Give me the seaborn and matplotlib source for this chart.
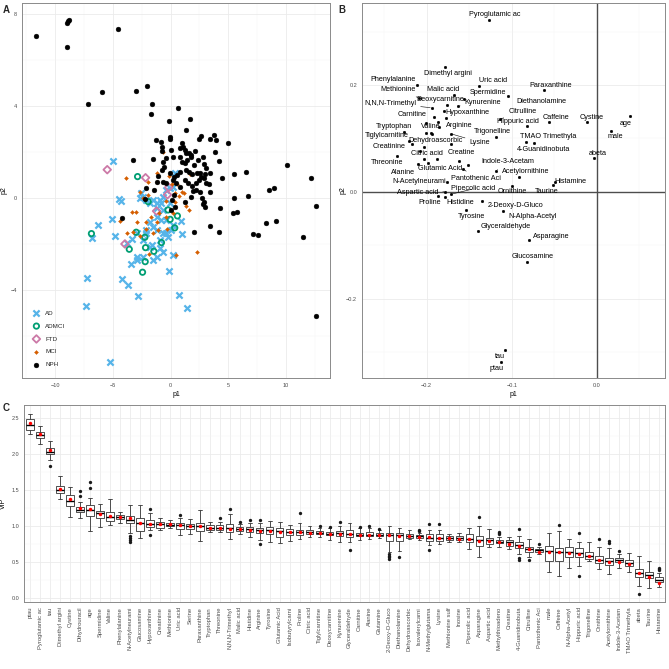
import numpy as np
import pandas as pd
import matplotlib
matplotlib.use("Agg")
import matplotlib.pyplot as plt
from matplotlib.ticker import MultipleLocator
import seaborn as sns

# ---------------- Panel A: PLS scores (p1, p2) per diagnosis ----------------
ad_scores = [(-4.96, 1.61), (-4.47, -0.04), (-4.30, -0.13), (-5.11, -0.93), (-6.26, -1.19),
             (-4.82, -1.65), (-6.78, -1.75), (-2.60, 0.22), (-2.66, -0.01), (-2.37, 0.06),
             (-2.09, -0.09), (-1.80, -0.23), (-1.51, -0.09), (-1.22, -0.23), (-0.94, -0.09),
             (-0.65, 0.06), (-0.36, 0.35), (-0.07, 0.42), (0.22, 0.49), (0.42, 1.07),
             (-0.79, -0.23), (-1.22, -0.45), (-0.65, -0.52), (-0.07, -0.23), (-3.38, -1.80),
             (-3.81, -1.97), (-3.44, -2.87), (-2.95, -2.70), (-2.89, -1.54), (-2.09, -1.54),
             (-7.27, -3.46), (-7.35, -4.70), (-4.22, -3.51), (-3.73, -3.78), (-2.81, -4.26),
             (0.70, -4.23), (1.40, -4.80), (-5.28, -7.14), (-0.65, -2.33), (-0.13, -3.16),
             (0.22, -2.48), (-1.22, -2.55), (-1.51, -2.70), (-1.80, -2.12), (-0.94, -1.83),
             (-0.36, -1.54), (0.07, -1.39), (-0.22, -1.68), (-0.65, -1.54), (-1.22, -1.39),
             (-1.51, -1.25), (-1.80, -1.03), (-2.09, -1.39), (-2.37, -1.83), (-2.37, -2.55),
             (-2.95, -2.55), (-1.65, -2.04), (-0.94, -2.19), (0.94, -0.99), (0.99, -1.58),
             (-0.36, -0.96), (0.22, -1.17), (-0.79, -0.96), (-1.22, -0.81)]
admci_scores = [(-2.86, 0.93), (-1.94, -0.16), (-6.86, -1.55), (-2.98, -1.49), (-3.58, -2.23),
                (-2.23, -1.71), (-2.17, -2.16), (-2.20, -2.77), (-2.43, -3.23), (-1.45, -2.32),
                (-0.79, -1.94), (-0.22, -0.52), (-0.04, -0.93), (0.36, -1.30), (0.59, -0.78)]
ftd_scores = [(-5.49, 1.23), (-2.17, 0.88), (-0.16, 0.46), (-1.22, -0.57), (-3.96, -2.00),
              (-0.27, 0.14)]
mci_scores = [(-3.90, 0.88), (-0.65, 1.99), (-1.22, 1.07), (-1.22, 0.71), (-2.00, 0.71),
              (-2.00, 0.12), (-2.66, 0.25), (-2.35, 0.01), (-0.10, 0.97), (0.16, 0.61),
              (0.53, 0.61), (1.65, 1.04), (1.17, 0.20), (0.76, 0.09), (0.99, 0.28),
              (0.39, 0.23), (1.31, -0.33), (1.57, -0.54), (0.42, -0.19), (-0.39, -0.14),
              (-2.98, -0.61), (-3.32, -0.62), (-4.39, -1.00), (-3.24, -1.49), (-2.66, -1.65),
              (-2.09, -1.36), (-1.08, -1.39), (-0.30, -1.36), (-1.22, -1.06), (-2.09, -1.03),
              (-1.71, -0.84), (0.50, -2.49), (2.26, -2.36), (-1.83, -2.43), (-0.36, -0.84),
              (0.22, -0.67), (-1.51, -1.54), (-0.99, -0.67), (-2.95, -1.04), (-3.81, -1.54)]
nph_scores = [(-11.64, 7.06), (-9.02, 7.59), (-8.91, 7.68), (-8.82, 7.74), (-8.96, 6.55),
              (-4.59, 7.35), (-7.12, 4.07), (-5.91, 4.59), (-3.04, 4.65), (-2.03, 4.86),
              (-1.57, 4.07), (-1.71, 3.64), (0.62, 3.93), (-0.13, 3.36), (1.71, 3.45),
              (1.34, 2.96), (-0.01, 2.67), (-0.01, 2.55), (-1.25, 2.51), (3.76, 2.74),
              (4.96, 2.39), (-3.24, 1.64), (-1.51, 1.70), (-0.71, 2.22), (-0.76, 2.06),
              (-0.36, 1.72), (0.01, 2.09), (0.99, 2.38), (1.11, 2.23), (1.25, 2.09),
              (1.37, 1.97), (1.60, 1.94), (1.80, 1.87), (2.43, 2.55), (2.63, 2.71),
              (3.38, 2.55), (3.90, 2.52), (3.87, 2.01), (4.19, 1.62), (2.09, 2.06),
              (0.79, 1.80), (0.96, 1.58), (1.22, 1.51), (1.45, 1.64), (1.77, 1.80),
              (2.03, 1.43), (2.35, 1.65), (2.81, 1.77), (2.89, 1.46), (3.09, 1.29),
              (3.38, 1.07), (3.01, 1.04), (2.52, 1.07), (2.32, 1.10), (1.88, 1.03),
              (1.60, 1.14), (1.37, 1.22), (0.82, 1.14), (0.56, 1.00), (0.27, 0.93),
              (-0.07, 1.07), (-0.53, 1.36), (-0.62, 1.55), (-0.71, 1.22), (-1.05, 0.97),
              (-1.22, 0.71), (-0.65, 0.71), (-0.36, 0.67), (0.22, 0.78), (0.50, 0.64),
              (0.79, 0.49), (1.22, 0.78), (1.51, 0.67), (1.88, 0.52), (2.17, 0.67),
              (2.43, 0.78), (2.66, 0.93), (2.89, 0.88), (3.09, 0.67), (3.29, 0.59),
              (2.20, 0.35), (1.94, 0.30), (1.74, 0.06), (2.58, 0.28), (2.75, 0.00),
              (2.86, -0.16), (2.95, -0.38), (3.38, 0.25), (2.81, -0.26), (1.25, -0.19),
              (0.27, 0.13), (0.16, -0.09), (0.36, -0.38), (0.04, -0.52), (-2.09, 0.42),
              (-1.45, 0.35), (-2.20, -0.06), (4.47, 0.86), (5.51, 1.06), (6.55, 1.13),
              (6.72, 0.10), (5.48, 0.01), (4.30, -0.43), (5.37, -0.67), (5.74, -0.61),
              (3.45, -1.22), (4.16, -1.46), (2.03, -1.46), (7.12, -1.57), (7.61, -1.59),
              (8.27, -1.10), (8.50, 0.33), (8.96, 0.45), (9.11, -0.99), (10.06, 1.45),
              (12.19, 0.86), (12.59, -0.33), (11.50, -1.70), (12.59, -5.12), (-4.19, -0.87),
              (-0.79, 2.45), (0.85, 2.16), (0.22, 1.80)]

# ---------------- Panel B: loadings ----------------
load_names = ["Pyroglutamic ac", "Dimethyl argini", "Phenylalanine", "Uric acid", "Paraxanthine",
              "Methionine", "Malic acid", "Spermidine", "Diethanolamine", "Deoxycarnitine",
              "N,N,N-Trimethyl", "Kynurenine", "Hypoxanthine", "Carnitine", "Citrulline",
              "Caffeine", "Cystine", "age", "Hippuric acid", "Arginine",
              "Valine", "Tryptophan", "male", "Lysine", "Trigonelline",
              "TMAO Trimethyla", "Dehydroascorbic", "Tiglylcarnitine", "Creatinine", "Creatine",
              "4-Guanidinobuta", "Citric acid", "abeta", "Threonine", "Indole-3-Acetam",
              "Glutamic Acid", "Alanine", "Pantothenic Aci", "Acetylornithine", "Histamine",
              "N-Acetylneurami", "Taurine", "Ornithine", "Pipecolic acid", "Aspartic acid",
              "Proline", "Histidine", "2-Deoxy-D-Gluco", "Tyrosine", "N-Alpha-Acetyl",
              "Glyceraldehyde", "Asparagine", "Glucosamine", "tau", "ptau",
              "Dihydrouracil", "Serine", "Glutamine", "Isobutyrylcarni", "Isovalerylcarni",
              "N-Methylglutama", "Methionine sulf", "Inosine", "Methylthioadeno"]
load_p1 = [-0.1263, -0.1784, -0.2110, -0.1380, -0.0620,
           -0.2086, -0.1675, -0.1557, -0.1039, -0.1757,
           -0.1941, -0.1627, -0.1792, -0.1910, -0.1137,
           -0.0561, -0.0118, 0.0392, -0.0824, -0.1769,
           -0.1945, -0.2267, 0.0165, -0.1718, -0.1188,
           -0.0831, -0.2008, -0.2212, -0.2176, -0.1718,
           -0.0737, -0.2031, -0.0039, -0.2353, -0.1184,
           -0.1620, -0.2102, -0.1569, -0.0914, -0.0490,
           -0.1757, -0.0510, -0.0996, -0.1710, -0.1784,
           -0.1863, -0.1788, -0.1345, -0.1537, -0.1098,
           -0.1400, -0.0792, -0.0816, -0.1078, -0.1125,
           -0.2027, -0.1984, -0.1875, -0.1514, -0.1871,
           -0.2008, -0.1851, -0.1941, -0.2078]
load_p2 = [0.3221, 0.2343, 0.2012, 0.1988, 0.1900,
           0.1757, 0.1819, 0.1745, 0.1801, 0.1626,
           0.1576, 0.1607, 0.1508, 0.1396, 0.1364,
           0.1302, 0.1302, 0.1414, 0.1227, 0.1377,
           0.1097, 0.1121, 0.1146, 0.1090, 0.1028,
           0.0928, 0.1103, 0.0960, 0.0891, 0.0891,
           0.0916, 0.0847, 0.0629, 0.0679, 0.0399,
           0.0573, 0.0517, 0.0430, 0.0280, 0.0193,
           0.0181, 0.0131, 0.0118, -0.0044, 0.0006,
           -0.0075, -0.0088, -0.0163, -0.0332, -0.0363,
           -0.0726, -0.0895, -0.1315, -0.2974, -0.3181,
           0.0611, 0.0548, 0.0611, 0.0511, 0.1315,
           0.1283, 0.1221, 0.1084, 0.0773]

# label layout for panel B (offset in points, leader line flag); unlisted = no label
label_layout = {
    "Pyroglutamic ac": (3.6, 4.1, False), "Dimethyl argini": (2.4, -4.6, False),
    "Phenylalanine": (-17.3, 3.8, False), "Uric acid": (9.6, 3.8, False),
    "Paraxanthine": (4.8, 3.6, False), "Methionine": (-15.1, 6.2, True),
    "Malic acid": (-7.9, 4.1, False), "Spermidine": (16.8, 4.8, True),
    "Diethanolamine": (23.8, -3.8, False), "Deoxycarnitine": (-5.3, 3.8, False),
    "N,N,N-Trimethyl": (-30.0, 3.1, True), "Kynurenine": (17.8, 2.6, True),
    "Hypoxanthine": (16.3, -0.7, False), "Carnitine": (-16.1, 2.4, False),
    "Citrulline": (16.1, 5.5, True), "Caffeine": (4.6, 3.8, False),
    "Cystine": (3.8, 3.8, False), "age": (-3.1, -4.8, False),
    "Hippuric acid": (-6.5, 3.6, False), "Arginine": (9.6, -4.8, False),
    "Valine": (-0.7, 5.0, False), "Tryptophan": (-7.2, 4.1, False),
    "male": (3.4, -4.3, False), "Lysine": (21.1, -6.2, True),
    "Trigonelline": (-2.6, 3.6, False), "TMAO Trimethyla": (15.8, 4.3, False),
    "Dehydroascorbic": (7.0, -5.5, False), "Tiglylcarnitine": (-15.8, 3.4, False),
    "Creatinine": (-16.3, -1.7, False), "Creatine": (7.4, -5.8, False),
    "4-Guanidinobuta": (6.7, -4.8, False), "Citric acid": (1.9, -4.8, False),
    "abeta": (3.1, 3.8, False), "Threonine": (-6.7, -4.6, False),
    "Indole-3-Acetam": (8.6, 6.2, True), "Glutamic Acid": (-13.7, -5.3, True),
    "Alanine": (-10.6, -5.8, False), "Pantothenic Aci": (8.9, -7.2, True),
    "Acetylornithine": (4.6, 3.6, False), "Histamine": (10.8, 0.0, False),
    "N-Acetylneurami": (-20.2, 0.2, False), "Taurine": (-4.8, -4.8, False),
    "Ornithine": (0.0, -4.3, False), "Pipecolic acid": (15.8, 3.8, True),
    "Aspartic acid": (-19.9, -0.5, True), "Proline": (-6.0, -5.0, False),
    "Histidine": (11.5, -4.6, False), "2-Deoxy-D-Gluco": (24.0, -3.8, False),
    "Tyrosine": (3.8, -4.8, False), "N-Alpha-Acetyl": (21.1, -3.6, False),
    "Glyceraldehyde": (20.4, 3.1, False), "Asparagine": (15.6, 2.4, False),
    "Glucosamine": (3.8, 3.6, False), "tau": (-3.8, -4.3, False),
    "ptau": (-3.1, -4.8, False),
}

# ---------------- Panel C: VIP distributions ----------------
vip_names = ["ptau", "Pyroglutamic ac", "tau", "Dimethyl argini", "Cystine", "Dihydrouracil",
             "age", "Spermidine", "Valine", "Phenylalanine", "N-Acetylneurami", "Glucosamine",
             "Hypoxanthine", "Creatinine", "Methionine", "Uric acid", "Serine", "Paraxanthine",
             "Tryptophan", "Threonine", "N,N,N-Trimethyl", "Malic acid", "Histidine", "Arginine",
             "Tyrosine", "Glutamic Acid", "Isobutyrylcarni", "Proline", "Citric acid",
             "Tiglylcarnitine", "Deoxycarnitine", "Kynurenine", "Glyceraldehyde", "Carnitine",
             "Alanine", "Glutamine", "2-Deoxy-D-Gluco", "Diethanolamine", "Dehydroascorbic",
             "Isovalerylcarni", "N-Methylglutama", "Lysine", "Methionine sulf", "Inosine",
             "Pipecolic acid", "Asparagine", "Aspartic acid", "Methylthioadeno", "Creatine",
             "4-Guanidinobuta", "Citrulline", "Pantothenic Aci", "male", "Caffeine",
             "N-Alpha-Acetyl", "Hippuric acid", "Trigonelline", "Ornithine", "Acetylornithine",
             "Indole-3-Acetam", "TMAO Trimethyla", "abeta", "Taurine", "Histamine"]
vip_lo = [2.287, 2.143, 1.920, 1.378, 1.132, 1.118, 0.932, 0.983, 1.016, 1.039, 0.900, 0.830,
          0.946, 0.946, 0.970, 0.877, 0.890, 0.798, 0.914, 0.914, 0.821, 0.886, 0.853, 0.807,
          0.775, 0.761, 0.798, 0.821, 0.853, 0.853, 0.807, 0.779, 0.784, 0.807, 0.821, 0.830,
          0.640, 0.654, 0.821, 0.807, 0.737, 0.747, 0.775, 0.784, 0.682, 0.575, 0.714, 0.714,
          0.682, 0.608, 0.575, 0.608, 0.366, 0.306, 0.422, 0.445, 0.506, 0.399, 0.334, 0.413,
          0.366, 0.158, 0.135, 0.153]
vip_q1 = [2.333, 2.222, 2.000, 1.461, 1.276, 1.192, 1.141, 1.109, 1.071, 1.095, 1.039, 0.932,
          0.983, 0.979, 0.997, 0.960, 0.960, 0.937, 0.946, 0.946, 0.923, 0.937, 0.923, 0.900,
          0.886, 0.853, 0.877, 0.877, 0.886, 0.891, 0.872, 0.858, 0.849, 0.858, 0.858, 0.858,
          0.793, 0.793, 0.840, 0.830, 0.798, 0.798, 0.812, 0.802, 0.775, 0.728, 0.756, 0.761,
          0.728, 0.691, 0.645, 0.635, 0.519, 0.506, 0.566, 0.566, 0.543, 0.482, 0.459, 0.496,
          0.441, 0.283, 0.274, 0.218]
vip_med = [2.407, 2.268, 2.027, 1.507, 1.350, 1.224, 1.224, 1.178, 1.132, 1.122, 1.085, 1.040,
           1.030, 1.025, 1.020, 1.011, 0.997, 1.002, 0.974, 0.979, 0.979, 0.960, 0.955, 0.942,
           0.946, 0.928, 0.923, 0.923, 0.914, 0.909, 0.895, 0.904, 0.895, 0.881, 0.881, 0.877,
           0.877, 0.877, 0.867, 0.858, 0.840, 0.840, 0.835, 0.830, 0.821, 0.802, 0.802, 0.784,
           0.775, 0.737, 0.682, 0.663, 0.654, 0.635, 0.645, 0.626, 0.580, 0.529, 0.506, 0.524,
           0.482, 0.343, 0.320, 0.250]
vip_q3 = [2.486, 2.305, 2.083, 1.558, 1.433, 1.271, 1.294, 1.215, 1.192, 1.155, 1.141, 1.109,
          1.081, 1.058, 1.044, 1.039, 1.034, 1.048, 1.016, 1.016, 1.030, 0.988, 0.983, 0.969,
          0.993, 0.969, 0.960, 0.951, 0.942, 0.932, 0.923, 0.937, 0.942, 0.909, 0.914, 0.904,
          0.909, 0.900, 0.895, 0.877, 0.886, 0.886, 0.858, 0.858, 0.886, 0.863, 0.840, 0.807,
          0.812, 0.775, 0.710, 0.682, 0.728, 0.691, 0.705, 0.691, 0.635, 0.589, 0.552, 0.552,
          0.524, 0.408, 0.366, 0.283]
vip_hi = [2.556, 2.393, 2.185, 1.698, 1.549, 1.340, 1.387, 1.308, 1.373, 1.192, 1.294, 1.294,
          1.178, 1.109, 1.085, 1.118, 1.100, 1.225, 1.062, 1.062, 1.164, 1.025, 1.039, 1.039,
          1.071, 1.062, 1.016, 1.039, 1.002, 0.970, 0.970, 1.002, 1.044, 0.970, 0.970, 0.946,
          1.007, 0.970, 0.946, 0.900, 0.946, 0.946, 0.886, 0.900, 0.979, 1.007, 0.960, 0.850,
          0.853, 0.867, 0.816, 0.714, 0.909, 0.932, 0.816, 0.784, 0.784, 0.714, 0.700, 0.608,
          0.631, 0.589, 0.506, 0.339]
vip_mean = [2.430, 2.287, 2.064, 1.517, 1.373, 1.248, 1.234, 1.173, 1.146, 1.127, 1.113, 1.039,
            1.034, 1.030, 1.025, 1.011, 1.007, 1.000, 0.974, 0.974, 0.960, 0.960, 0.942, 0.932,
            0.928, 0.923, 0.923, 0.914, 0.904, 0.909, 0.895, 0.895, 0.886, 0.881, 0.877, 0.877,
            0.872, 0.867, 0.863, 0.844, 0.844, 0.840, 0.835, 0.821, 0.816, 0.793, 0.793, 0.784,
            0.756, 0.724, 0.682, 0.645, 0.645, 0.635, 0.622, 0.617, 0.580, 0.524, 0.492, 0.496,
            0.473, 0.343, 0.292, 0.213]
vip_outliers = {
    "tau": [1.841], "Dihydrouracil": [1.489, 1.424], "age": [1.609, 1.535],
    "N-Acetylneurami": [0.868, 0.835, 0.800, 0.780], "Hypoxanthine": [1.234, 0.877],
    "Uric acid": [1.155], "Threonine": [1.109], "N,N,N-Trimethyl": [1.238],
    "Malic acid": [1.062], "Histidine": [1.081], "Arginine": [1.081, 0.747],
    "Proline": [1.187], "Tiglylcarnitine": [1.007], "Deoxycarnitine": [0.993],
    "Kynurenine": [1.053], "Glyceraldehyde": [0.663], "Carnitine": [0.993],
    "Alanine": [1.002], "Glutamine": [0.955], "2-Deoxy-D-Gluco": [0.608, 0.585, 0.562, 0.540],
    "Diethanolamine": [0.571], "Isovalerylcarni": [0.946, 0.930], "N-Methylglutama": [1.025, 0.668],
    "Lysine": [1.025], "Asparagine": [1.127], "Methylthioadeno": [0.923, 0.905, 0.890],
    "4-Guanidinobuta": [0.960, 0.552, 0.530], "Citrulline": [0.533], "Pantothenic Aci": [0.751],
    "Caffeine": [1.011], "Hippuric acid": [0.904, 0.306], "Ornithine": [0.821],
    "Acetylornithine": [0.798, 0.770], "Indole-3-Acetam": [0.654], "abeta": [0.056],
    "Histamine": [0.422, 0.404, 0.385],
}

# ---------------- style ----------------
sns.set_theme(style="whitegrid")
plt.rcParams['font.family'] = ['Liberation Sans', 'DejaVu Sans']
TICK_C = '#4d4d4d'
BORDER_C = '#8a8a8a'


def style_axes(ax):
    ax.grid(which='major', color='#ebebeb', lw=0.6)
    ax.grid(which='minor', color='#f4f4f4', lw=0.35)
    ax.set_axisbelow(True)
    for s in ax.spines.values():
        s.set_visible(True)
        s.set_color(BORDER_C)
        s.set_linewidth(0.7)
    ax.tick_params(which='major', length=2, width=0.5, color='#333333',
                   labelsize=4, labelcolor=TICK_C, pad=1.5)
    ax.tick_params(which='minor', length=0)


fig = plt.figure(figsize=(6.69, 6.69), dpi=100)
axA = fig.add_axes([0.033, 0.435, 0.460, 0.5605])
axB = fig.add_axes([0.541, 0.435, 0.453, 0.5605])
axC = fig.add_axes([0.036, 0.100, 0.958, 0.2945])

# ---- A ----
groups = [
    ("AD", ad_scores, dict(marker='x', color='#56B4E9', s=20, linewidth=1.6)),
    ("ADMCI", admci_scores, dict(marker='o', facecolor='none', edgecolor='#009E73', s=15, linewidth=1.3)),
    ("FTD", ftd_scores, dict(marker='D', facecolor='none', edgecolor='#CC79A7', s=15, linewidth=1.3)),
    ("MCI", mci_scores, dict(marker='D', color='#D55E00', edgecolor='#D55E00', s=4, linewidth=0.3)),
    ("NPH", nph_scores, dict(marker='o', color='black', edgecolor='black', s=12, linewidth=0.3)),
]
for name, pts, kw in groups:
    d = pd.DataFrame(pts, columns=['p1', 'p2'])
    sns.scatterplot(data=d, x='p1', y='p2', ax=axA, label=name, **kw)
axA.set_xlim(-12.87, 13.8)
axA.set_ylim(-7.83, 8.48)
axA.xaxis.set_major_locator(MultipleLocator(5))
axA.xaxis.set_minor_locator(MultipleLocator(2.5))
axA.yaxis.set_major_locator(MultipleLocator(4))
axA.yaxis.set_minor_locator(MultipleLocator(2))
style_axes(axA)
axA.set_xlabel('p1', fontsize=5, color='black', labelpad=2)
axA.set_ylabel('p2', fontsize=5, color='black', labelpad=2)
leg = axA.legend(loc='lower left', bbox_to_anchor=(0.01, 0.015), frameon=False, fontsize=4.5,
                 labelspacing=1.2, handletextpad=0.4, borderpad=0.3)

# ---- B ----
axB.axvline(0, color='#4d4d4d', lw=1.0, zorder=1)
axB.axhline(0, color='#4d4d4d', lw=1.0, zorder=1)
bd = pd.DataFrame({'p1': load_p1, 'p2': load_p2, 'name': load_names})
sns.scatterplot(data=bd, x='p1', y='p2', ax=axB, color='black', s=4, edgecolor='black',
                linewidth=0.2, zorder=3)
for nm, x, y in zip(load_names, load_p1, load_p2):
    if nm not in label_layout:
        continue
    dx, dy, leader = label_layout[nm]
    arrow = dict(arrowstyle='-', color='black', lw=0.4, shrinkA=1, shrinkB=1) if leader else None
    axB.annotate(nm, xy=(x, y), xytext=(dx, dy), textcoords='offset points',
                 ha='center', va='center', fontsize=5.2, color='black',
                 arrowprops=arrow, zorder=4)
axB.set_xlim(-0.276, 0.080)
axB.set_ylim(-0.349, 0.354)
axB.xaxis.set_major_locator(MultipleLocator(0.1))
axB.xaxis.set_minor_locator(MultipleLocator(0.05))
axB.yaxis.set_major_locator(MultipleLocator(0.2))
axB.yaxis.set_minor_locator(MultipleLocator(0.1))
style_axes(axB)
axB.set_xlabel('p1', fontsize=5, color='black', labelpad=2)
axB.set_ylabel('p2', fontsize=5, color='black', labelpad=0)

# ---- C ----
rows = []
for i, nm in enumerate(vip_names):
    for v in (vip_lo[i], vip_q1[i], vip_med[i], vip_q3[i], vip_hi[i]):
        rows.append((nm, v))
cd = pd.DataFrame(rows, columns=['metabolite', 'VIP'])
sns.boxplot(data=cd, x='metabolite', y='VIP', order=vip_names, ax=axC, whis=(0, 100),
            width=0.75, color='white', linecolor='#333333', linewidth=0.6, showfliers=False,
            medianprops=dict(color='black', linewidth=1.0))
od = pd.DataFrame([(k, v) for k, vs in vip_outliers.items() for v in vs],
                  columns=['metabolite', 'VIP'])
sns.stripplot(data=od, x='metabolite', y='VIP', order=vip_names, ax=axC, jitter=False,
              color='#1a1a1a', size=2.4, linewidth=0, zorder=3)
md = pd.DataFrame({'metabolite': vip_names, 'VIP': vip_mean})
sns.stripplot(data=md, x='metabolite', y='VIP', order=vip_names, ax=axC, jitter=False,
              color='red', size=2.5, linewidth=0, zorder=4)
axC.set_xlim(-0.6, len(vip_names) - 0.4)
axC.set_ylim(-0.06, 2.686)
axC.yaxis.set_major_locator(MultipleLocator(0.5))
axC.yaxis.set_minor_locator(MultipleLocator(0.25))
style_axes(axC)
axC.grid(which='major', axis='x', color='#ebebeb', lw=0.6)
axC.tick_params(axis='x', labelrotation=90, labelsize=4.2)
axC.set_xlabel('')
axC.set_ylabel('VIP', fontsize=5, color='black', labelpad=3)

fig.text(0.004, 0.993, 'A', fontsize=7, fontweight='bold', va='top')
fig.text(0.506, 0.993, 'B', fontsize=7, fontweight='bold', va='top')
fig.text(0.004, 0.398, 'C', fontsize=7, fontweight='bold', va='top')

fig.savefig('out.png', dpi=100)
